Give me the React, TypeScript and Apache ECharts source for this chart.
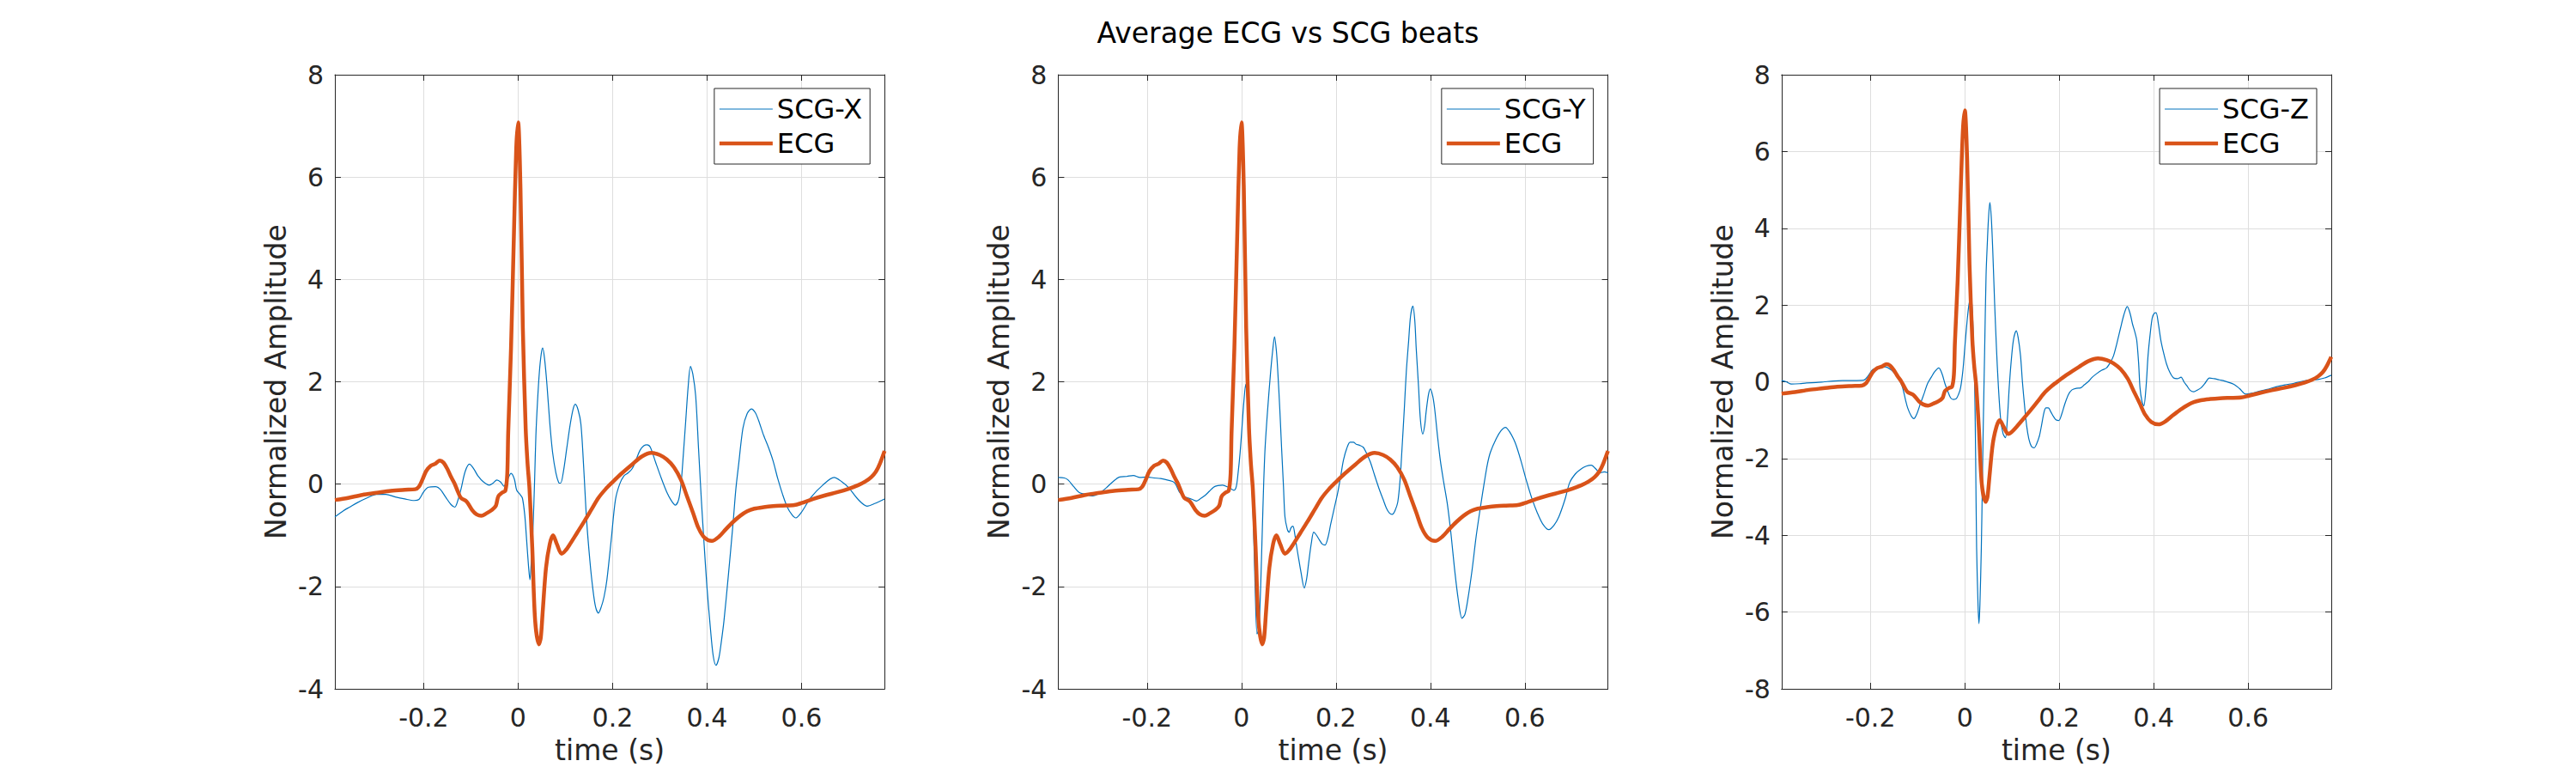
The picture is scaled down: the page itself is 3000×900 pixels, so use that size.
import React, { useEffect, useRef } from "react";
import * as echarts from "echarts";

const TITLE = "Average ECG vs SCG beats";
const X_LABEL = "time (s)";
const Y_LABEL = "Normalized Amplitude";
const X_MIN = -0.388;
const X_MAX = 0.776;
const X_STEP = 0.2;
const PANEL_NAMES = ["SCG-X", "SCG-Y", "SCG-Z"];
const ECG_NAME = "ECG";
const Y_MINS = [-4, -4, -8];
const Y_MAXS = [8, 8, 8];
const Y_STEP = 2;

// ECG average beat (same in every panel): [time s, amplitude]
const ecgPts: [number, number][] = [
  [-0.388, -0.31], [-0.36, -0.27], [-0.33, -0.21], [-0.3, -0.17], [-0.27, -0.13], [-0.24, -0.11],
  [-0.218, -0.1], [-0.21, -0.05], [-0.203, 0.08], [-0.195, 0.25], [-0.185, 0.36], [-0.175, 0.4],
  [-0.166, 0.46], [-0.158, 0.42], [-0.15, 0.3], [-0.142, 0.14], [-0.135, 0.02], [-0.127, -0.16],
  [-0.121, -0.27], [-0.109, -0.34], [-0.097, -0.51], [-0.088, -0.59], [-0.078, -0.62], [-0.067, -0.57],
  [-0.055, -0.5], [-0.047, -0.42], [-0.042, -0.24], [-0.033, -0.16], [-0.027, -0.13], [-0.023, 0.2],
  [-0.021, 1.0], [-0.015, 2.66], [-0.009, 4.84], [-0.004, 6.56], [0.0, 7.07], [0.005, 5.78],
  [0.01, 3.05], [0.016, 1.09], [0.02, 0.4], [0.024, -0.08], [0.03, -1.25], [0.036, -2.66],
  [0.044, -3.13], [0.048, -3.0], [0.052, -2.5], [0.059, -1.64], [0.067, -1.17], [0.074, -1.0],
  [0.082, -1.17], [0.092, -1.36], [0.1, -1.3], [0.11, -1.17], [0.125, -0.95], [0.14, -0.73],
  [0.155, -0.5], [0.17, -0.27], [0.185, -0.1], [0.2, 0.04], [0.218, 0.2], [0.242, 0.39],
  [0.262, 0.54], [0.282, 0.61], [0.3, 0.57], [0.315, 0.48], [0.33, 0.33], [0.345, 0.08],
  [0.358, -0.25], [0.37, -0.55], [0.382, -0.86], [0.395, -1.05], [0.41, -1.11], [0.425, -1.03],
  [0.44, -0.88], [0.455, -0.74], [0.47, -0.62], [0.485, -0.53], [0.5, -0.48], [0.52, -0.45],
  [0.54, -0.43], [0.56, -0.42], [0.585, -0.41], [0.6, -0.37], [0.625, -0.29], [0.65, -0.22],
  [0.675, -0.16], [0.7, -0.09], [0.72, -0.02], [0.735, 0.05], [0.748, 0.14], [0.758, 0.25],
  [0.766, 0.4], [0.776, 0.65],
];

const scgXPts: [number, number][] = [
  [-0.388, -0.64], [-0.37, -0.52], [-0.357, -0.45], [-0.34, -0.36], [-0.32, -0.27], [-0.3, -0.2],
  [-0.28, -0.2], [-0.26, -0.25], [-0.24, -0.29], [-0.22, -0.32], [-0.21, -0.3], [-0.2, -0.15],
  [-0.19, -0.06], [-0.175, -0.05], [-0.165, -0.1], [-0.153, -0.26], [-0.142, -0.4], [-0.134, -0.45],
  [-0.127, -0.3], [-0.121, -0.1], [-0.112, 0.25], [-0.103, 0.39], [-0.094, 0.3], [-0.085, 0.16],
  [-0.073, 0.04], [-0.061, -0.02], [-0.053, 0.02], [-0.045, 0.08], [-0.037, 0.04], [-0.03, -0.04],
  [-0.022, 0.1], [-0.015, 0.21], [-0.008, 0.1], [-0.003, -0.12], [0.004, -0.2], [0.009, -0.27],
  [0.014, -0.6], [0.018, -1.09], [0.022, -1.6], [0.025, -1.87], [0.028, -1.5], [0.0315, -0.86],
  [0.035, 0.1], [0.0376, 0.94], [0.041, 1.6], [0.045, 2.19], [0.049, 2.55], [0.052, 2.66],
  [0.056, 2.45], [0.061, 1.95], [0.067, 1.2], [0.073, 0.62], [0.08, 0.22], [0.086, 0.03],
  [0.09, 0.02], [0.096, 0.25], [0.103, 0.7], [0.11, 1.15], [0.116, 1.45], [0.121, 1.56],
  [0.127, 1.45], [0.133, 1.17], [0.139, 0.3], [0.145, -0.7], [0.152, -1.5], [0.158, -2.03],
  [0.164, -2.4], [0.17, -2.52], [0.176, -2.4], [0.182, -2.2], [0.188, -1.87], [0.197, -1.1],
  [0.206, -0.31], [0.215, 0.0], [0.224, 0.16], [0.233, 0.22], [0.242, 0.31], [0.25, 0.48],
  [0.258, 0.66], [0.266, 0.75], [0.273, 0.77], [0.28, 0.72], [0.291, 0.43], [0.303, 0.12],
  [0.315, -0.16], [0.325, -0.33], [0.333, -0.41], [0.34, -0.3], [0.345, 0.0], [0.35, 0.6],
  [0.355, 1.25], [0.36, 1.9], [0.365, 2.3], [0.37, 2.15], [0.376, 1.72], [0.382, 0.7],
  [0.388, -0.31], [0.394, -1.2], [0.4, -2.03], [0.407, -2.8], [0.413, -3.35], [0.419, -3.54],
  [0.425, -3.4], [0.43, -3.1], [0.436, -2.66], [0.445, -1.8], [0.455, -0.78], [0.461, -0.1],
  [0.467, 0.39], [0.476, 1.09], [0.485, 1.38], [0.494, 1.47], [0.502, 1.4], [0.509, 1.25],
  [0.52, 0.95], [0.53, 0.72], [0.54, 0.45], [0.55, 0.1], [0.56, -0.2], [0.57, -0.45],
  [0.58, -0.6], [0.588, -0.66], [0.6, -0.55], [0.62, -0.26], [0.645, -0.02], [0.669, 0.13],
  [0.685, 0.05], [0.7, -0.07], [0.72, -0.3], [0.739, -0.43], [0.755, -0.38], [0.776, -0.29],
];

const scgYPts: [number, number][] = [
  [-0.388, 0.13], [-0.375, 0.12], [-0.367, 0.08], [-0.355, -0.05], [-0.344, -0.16], [-0.33, -0.2],
  [-0.315, -0.23], [-0.3, -0.17], [-0.286, -0.07], [-0.272, 0.05], [-0.258, 0.14], [-0.243, 0.15],
  [-0.229, 0.17], [-0.215, 0.13], [-0.2, 0.14], [-0.185, 0.12], [-0.171, 0.11], [-0.157, 0.08],
  [-0.142, 0.03], [-0.131, -0.16], [-0.122, -0.24], [-0.113, -0.27], [-0.104, -0.3], [-0.095, -0.33],
  [-0.086, -0.28], [-0.077, -0.22], [-0.068, -0.14], [-0.059, -0.06], [-0.05, -0.03], [-0.04, -0.02],
  [-0.028, -0.06], [-0.016, -0.12], [-0.011, -0.05], [-0.007, 0.23], [-0.003, 0.6], [0.001, 1.09],
  [0.005, 1.6], [0.009, 1.95], [0.013, 1.6], [0.017, 1.09], [0.021, 0.2], [0.025, -0.7],
  [0.029, -2.03], [0.033, -2.93], [0.036, -2.85], [0.038, -2.66], [0.041, -1.9], [0.044, -0.94],
  [0.047, 0.0], [0.05, 0.7], [0.055, 1.4], [0.061, 2.11], [0.066, 2.6], [0.07, 2.88],
  [0.074, 2.6], [0.077, 2.19], [0.081, 1.5], [0.085, 0.7], [0.089, -0.05], [0.092, -0.63],
  [0.097, -0.88], [0.101, -0.94], [0.105, -0.85], [0.109, -0.82], [0.113, -0.98], [0.116, -1.17],
  [0.121, -1.45], [0.126, -1.72], [0.133, -2.03], [0.138, -1.85], [0.142, -1.56], [0.148, -1.15],
  [0.153, -0.94], [0.159, -1.0], [0.165, -1.09], [0.171, -1.17], [0.177, -1.19], [0.183, -1.05],
  [0.189, -0.78], [0.197, -0.45], [0.204, -0.16], [0.21, 0.15], [0.216, 0.47], [0.223, 0.7],
  [0.23, 0.82], [0.237, 0.82], [0.243, 0.78], [0.25, 0.76], [0.258, 0.72], [0.265, 0.6],
  [0.273, 0.43], [0.282, 0.17], [0.291, -0.08], [0.3, -0.3], [0.307, -0.47], [0.313, -0.56],
  [0.319, -0.59], [0.325, -0.52], [0.331, -0.35], [0.336, 0.1], [0.34, 0.7], [0.345, 1.5],
  [0.349, 2.19], [0.354, 2.8], [0.358, 3.28], [0.363, 3.48], [0.367, 3.2], [0.37, 2.66],
  [0.375, 1.9], [0.379, 1.25], [0.384, 0.98], [0.388, 1.15], [0.391, 1.41], [0.396, 1.75],
  [0.4, 1.86], [0.405, 1.72], [0.409, 1.48], [0.415, 0.95], [0.421, 0.47], [0.428, 0.05],
  [0.436, -0.39], [0.444, -1.0], [0.451, -1.64], [0.459, -2.25], [0.467, -2.62], [0.473, -2.55],
  [0.479, -2.27], [0.488, -1.7], [0.497, -1.02], [0.506, -0.45], [0.515, 0.08], [0.521, 0.4],
  [0.527, 0.62], [0.539, 0.88], [0.55, 1.05], [0.559, 1.11], [0.568, 1.02], [0.58, 0.8],
  [0.592, 0.45], [0.603, 0.08], [0.615, -0.28], [0.626, -0.55], [0.638, -0.78], [0.651, -0.89],
  [0.662, -0.8], [0.672, -0.64], [0.685, -0.3], [0.695, 0.03], [0.707, 0.2], [0.718, 0.29],
  [0.73, 0.35], [0.741, 0.37], [0.75, 0.3], [0.759, 0.22], [0.768, 0.24], [0.776, 0.22],
];

const scgZPts: [number, number][] = [
  [-0.388, 0.03], [-0.378, 0.0], [-0.367, -0.06], [-0.35, -0.05], [-0.335, -0.03], [-0.315, -0.02],
  [-0.297, 0.0], [-0.278, 0.02], [-0.259, 0.03], [-0.236, 0.03], [-0.214, 0.04], [-0.205, 0.15],
  [-0.195, 0.32], [-0.182, 0.36], [-0.169, 0.39], [-0.155, 0.3], [-0.143, 0.13], [-0.133, -0.1],
  [-0.125, -0.5], [-0.121, -0.68], [-0.114, -0.88], [-0.108, -0.96], [-0.101, -0.82], [-0.094, -0.57],
  [-0.086, -0.3], [-0.079, -0.05], [-0.071, 0.12], [-0.064, 0.26], [-0.055, 0.36], [-0.048, 0.2],
  [-0.042, -0.05], [-0.036, -0.25], [-0.03, -0.42], [-0.024, -0.46], [-0.018, -0.44], [-0.013, -0.32],
  [-0.009, -0.16], [-0.004, 0.3], [0.0, 0.89], [0.005, 1.6], [0.009, 2.03], [0.012, 2.12],
  [0.015, 2.03], [0.018, 1.2], [0.021, -0.16], [0.023, -2.0], [0.025, -4.32], [0.028, -5.8],
  [0.03, -6.3], [0.032, -5.8], [0.035, -4.32], [0.037, -2.8], [0.039, -1.2], [0.042, 0.8],
  [0.045, 2.76], [0.048, 3.7], [0.05, 4.22], [0.053, 4.67], [0.056, 4.3], [0.059, 3.49],
  [0.063, 2.1], [0.067, 0.89], [0.071, -0.1], [0.076, -0.99], [0.081, -1.35], [0.086, -1.46],
  [0.09, -1.0], [0.094, -0.16], [0.098, 0.5], [0.103, 1.09], [0.109, 1.33], [0.113, 1.15],
  [0.118, 0.68], [0.122, 0.0], [0.127, -0.68], [0.131, -1.15], [0.136, -1.51], [0.141, -1.68],
  [0.147, -1.72], [0.152, -1.62], [0.158, -1.41], [0.163, -1.1], [0.168, -0.78], [0.172, -0.68],
  [0.177, -0.68], [0.182, -0.78], [0.188, -0.91], [0.193, -0.99], [0.199, -1.01], [0.205, -0.85],
  [0.212, -0.57], [0.22, -0.32], [0.227, -0.21], [0.236, -0.17], [0.245, -0.16], [0.253, -0.08],
  [0.261, 0.0], [0.27, 0.12], [0.279, 0.21], [0.29, 0.3], [0.3, 0.36], [0.308, 0.5],
  [0.315, 0.68], [0.322, 1.0], [0.33, 1.41], [0.337, 1.75], [0.344, 1.96], [0.35, 1.78],
  [0.355, 1.51], [0.36, 1.3], [0.364, 1.09], [0.368, 0.5], [0.371, -0.16], [0.375, -0.5],
  [0.379, -0.63], [0.384, -0.1], [0.388, 0.68], [0.393, 1.3], [0.397, 1.67], [0.401, 1.78],
  [0.405, 1.8], [0.41, 1.5], [0.415, 1.09], [0.421, 0.75], [0.427, 0.47], [0.434, 0.25],
  [0.442, 0.1], [0.45, 0.08], [0.458, 0.12], [0.464, 0.0], [0.47, -0.1], [0.477, -0.22],
  [0.485, -0.26], [0.492, -0.22], [0.5, -0.16], [0.508, -0.05], [0.518, 0.1], [0.528, 0.08],
  [0.539, 0.05], [0.55, 0.02], [0.569, -0.06], [0.582, -0.18], [0.595, -0.32], [0.607, -0.3],
  [0.62, -0.26], [0.64, -0.2], [0.659, -0.13], [0.678, -0.08], [0.697, -0.04], [0.722, 0.03],
  [0.748, 0.06], [0.762, 0.1], [0.776, 0.17],
];

const SCG_SERIES = [scgXPts, scgYPts, scgZPts];

const FONT = "DejaVu Sans";
const AXIS_COLOR = "#262626";
const GRID_COLOR = "#dedede";
const BLUE = "#0072BD";
const ORANGE = "#D95319";
const SCG_WIDTH = 1.2;
const ECG_WIDTH = 4.5;
const PANEL_LEFTS = [390, 1232.4, 2074.8];
const PANEL_WIDTH = 640.2;
const PANEL_TOP = 87;
const PANEL_HEIGHT = 715;
const W = 3000;
const H = 900;

const ICON_W = 62;
const iconPath = (h: number) => `path://M0,0H${ICON_W}V${h}H0Z`;

function xLabel(v: number): string {
  const k = v / X_STEP;
  if (Math.abs(k - Math.round(k)) > 1e-6) return "";
  const r = Math.round(k * 2) / 10;
  return String(r === 0 ? 0 : r);
}

function buildOption() {
  const grid = PANEL_LEFTS.map((l) => ({ left: l, top: PANEL_TOP, width: PANEL_WIDTH, height: PANEL_HEIGHT }));
  const lineStyle = { color: AXIS_COLOR, width: 1 };
  const xAxis: any[] = [];
  const yAxis: any[] = [];
  PANEL_LEFTS.forEach((_, i) => {
    const xBase = {
      type: "value",
      gridIndex: i,
      min: X_MIN,
      max: X_MAX,
      minInterval: X_STEP,
      maxInterval: X_STEP,
      axisLine: { show: true, onZero: false, lineStyle },
      axisTick: { show: true, inside: true, length: 7, lineStyle },
    };
    xAxis.push({
      ...xBase,
      position: "bottom",
      name: X_LABEL,
      nameLocation: "middle",
      nameGap: 55,
      nameTextStyle: { fontFamily: FONT, fontSize: 33, color: AXIS_COLOR },
      axisLabel: {
        show: true,
        margin: 18,
        fontFamily: FONT,
        fontSize: 30,
        color: AXIS_COLOR,
        showMinLabel: false,
        showMaxLabel: false,
        formatter: xLabel,
      },
      splitLine: { show: true, lineStyle: { color: GRID_COLOR, width: 1 } },
    });
    xAxis.push({
      ...xBase,
      position: "top",
      axisLabel: { show: false },
      splitLine: { show: false },
    });
    const yBase = {
      type: "value",
      gridIndex: i,
      min: Y_MINS[i],
      max: Y_MAXS[i],
      interval: Y_STEP,
      axisLine: { show: true, onZero: false, lineStyle },
      axisTick: { show: true, inside: true, length: 7, lineStyle },
    };
    yAxis.push({
      ...yBase,
      position: "left",
      name: Y_LABEL,
      nameLocation: "middle",
      nameGap: 52,
      nameTextStyle: { fontFamily: FONT, fontSize: 33, color: AXIS_COLOR },
      axisLabel: { show: true, margin: 13, fontFamily: FONT, fontSize: 30, color: AXIS_COLOR },
      splitLine: { show: true, lineStyle: { color: GRID_COLOR, width: 1 } },
    });
    yAxis.push({
      ...yBase,
      position: "right",
      axisLabel: { show: false },
      splitLine: { show: false },
    });
  });

  const legend = PANEL_NAMES.map((n, i) => ({
    orient: "vertical",
    right: W - (PANEL_LEFTS[i] + PANEL_WIDTH) + 17,
    top: 103,
    data: [
      { name: n, icon: iconPath(SCG_WIDTH), itemStyle: { color: BLUE, borderWidth: 0 } },
      { name: ECG_NAME, icon: iconPath(ECG_WIDTH), itemStyle: { color: ORANGE, borderWidth: 0 } },
    ],
    itemWidth: ICON_W,
    itemHeight: 20,
    itemGap: 8,
    padding: [8, 9, 8, 6],
    borderColor: AXIS_COLOR,
    borderWidth: 1,
    borderRadius: 0,
    backgroundColor: "#ffffff",
    selectedMode: false,
    textStyle: { fontFamily: FONT, fontSize: 32, color: "#000000", lineHeight: 32 },
  }));

  const series: any[] = [];
  SCG_SERIES.forEach((pts, i) => {
    series.push({
      type: "line",
      name: PANEL_NAMES[i],
      xAxisIndex: 2 * i,
      yAxisIndex: 2 * i,
      data: pts,
      symbol: "none",
      showSymbol: false,
      smooth: 0.3,
      lineStyle: { color: BLUE, width: SCG_WIDTH },
      itemStyle: { color: BLUE },
      z: 2,
    });
  });
  PANEL_NAMES.forEach((_, i) => {
    series.push({
      type: "line",
      name: ECG_NAME,
      xAxisIndex: 2 * i,
      yAxisIndex: 2 * i,
      data: ecgPts,
      symbol: "none",
      showSymbol: false,
      smooth: 0.3,
      lineStyle: { color: ORANGE, width: ECG_WIDTH },
      itemStyle: { color: ORANGE },
      z: 3,
    });
  });

  return {
    animation: false,
    backgroundColor: "#ffffff",
    textStyle: { fontFamily: FONT },
    title: {
      text: TITLE,
      left: "center",
      top: 22,
      padding: 0,
      textStyle: { fontFamily: FONT, fontSize: 33, fontWeight: "normal", color: "#000000", lineHeight: 33 },
    },
    grid,
    xAxis,
    yAxis,
    legend,
    series,
  };
}

export default function App() {
  const ref = useRef<HTMLDivElement>(null);
  useEffect(() => {
    document.body.style.margin = "0";
    if (!ref.current) return;
    const chart = echarts.init(ref.current, undefined, { renderer: "svg" });
    chart.setOption(buildOption() as any);
    return () => chart.dispose();
  }, []);
  return <div ref={ref} style={{ width: W, height: H }} />;
}
